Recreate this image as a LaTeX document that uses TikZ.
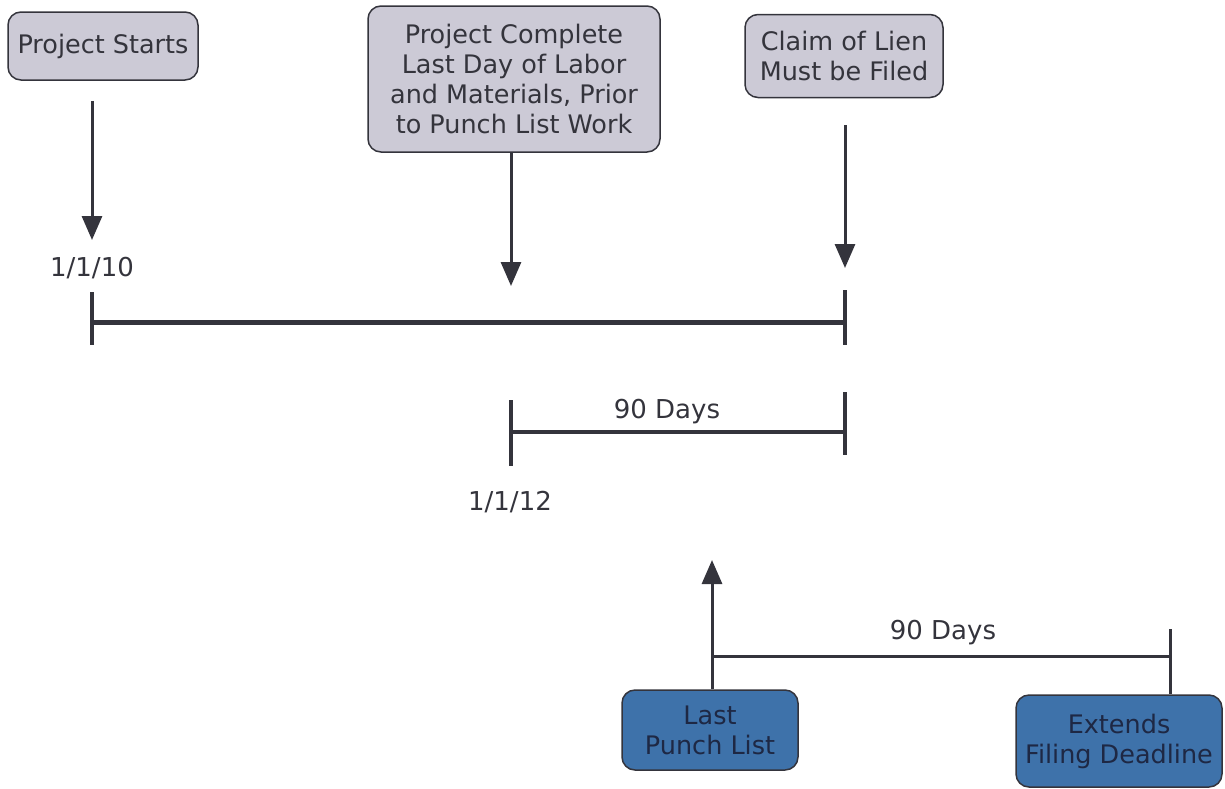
\documentclass[tikz,border=0pt]{standalone}
\usepackage{fontspec}
\setmainfont{DejaVu Sans}
\usetikzlibrary{
  arrows.meta
}
\definecolor{boxgray}{RGB}{204,202,214}
\definecolor{boxblue}{RGB}{62,114,170}
\definecolor{inkgray}{RGB}{52,52,60}
\definecolor{inkblue}{RGB}{30,40,68}
\tikzset{
  x=1pt, y=-1pt,
  >={Triangle[length=24pt,width=20pt]},
  event/.style={rectangle, rounded corners=13pt, draw=inkgray, line width=1.5pt,
    fill=boxgray, text=inkgray, align=center, inner sep=0pt,
    font=\fontsize{25.5}{30}\selectfont},
  result/.style={event, fill=boxblue, text=inkblue},
  pointer/.style={->, line width=3pt, draw=inkgray},
  span/.style={line width=4pt, draw=inkgray},
  datelabel/.style={text=inkgray, font=\fontsize{26}{30}\selectfont}
}

\begin{document}
\begin{tikzpicture}
    \useasboundingbox (0,0) rectangle (1225,788);
    % boxes
    \node[event, minimum width=190, minimum height=68] (start) at (103,46) {Project Starts};
    \node[event, minimum width=292, minimum height=146] (complete) at (514,79)
      {Project Complete\\Last Day of Labor\\and Materials, Prior\\to Punch List Work};
    \node[event, minimum width=198, minimum height=83] (lien) at (844,56) {Claim of Lien\\Must be Filed};
    \node[result, minimum width=176, minimum height=80] (punch) at (710,730) {Last\\Punch List};
    \node[result, minimum width=206, minimum height=92] (extends) at (1119,741) {Extends\\Filing Deadline};
    % dates
    \node[datelabel] (d10) at (92,268) {1/1/10};
    \node[datelabel] (d12) at (510,502) {1/1/12};
    \node[datelabel] (days1) at (667,412) {90 Days};
    \node[datelabel] (days2) at (943,633) {90 Days};
    % timeline points
    \coordinate (t0) at (92,322);
    \coordinate (t1) at (845,322);
    \coordinate (m0) at (511,432);
    \coordinate (m1) at (845,432);
    \coordinate (p0) at (712,656);
    \coordinate (p1) at (1170,656);
    \coordinate (a1) at (92,240);
    \coordinate (a2) at (511,286);
    \coordinate (a3) at (845,268);
    \coordinate (a4) at (712,560);
    % arrows
    \draw[pointer, shorten <=20pt] (start.south -| t0) -- (a1);
    \draw[pointer] (complete.south -| m0) -- (a2);
    \draw[pointer, shorten <=27pt] (lien.south -| t1) -- (a3);
    \draw[pointer] (punch.north -| p0) -- (a4);
    % spans
    \draw[span, line width=5pt] (t0) -- (t1);
    \draw[span] (t0) ++(0,-30) -- ++(0,53);
    \draw[span] (t1) ++(0,-32) -- ++(0,55);
    \draw[span, line width=3.5pt] (m0) -- (m1);
    \draw[span] (m0) ++(0,-32) -- ++(0,66);
    \draw[span] (m1) ++(0,-40) -- ++(0,63);
    \draw[span, line width=3pt] (p0) -- (p1);
    \draw[span, line width=3pt] (p1) ++(0,-27) -- (extends.north -| p1);
\end{tikzpicture}
\end{document}
